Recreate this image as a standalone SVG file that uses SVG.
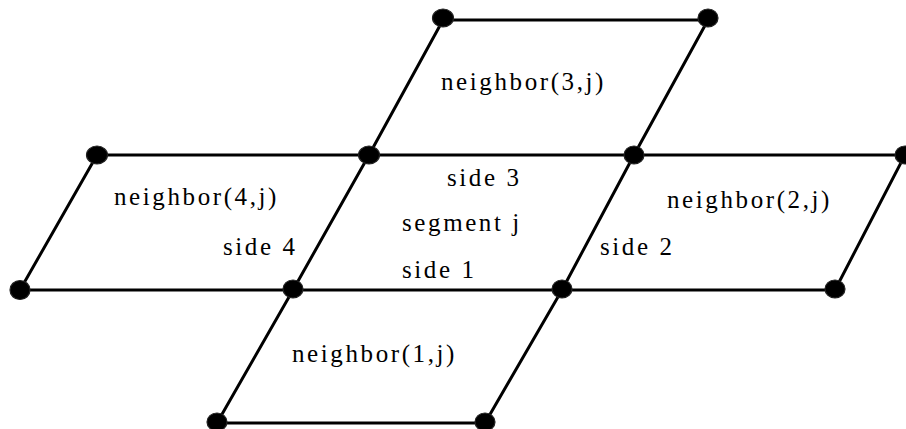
<svg xmlns="http://www.w3.org/2000/svg" width="906" height="429" viewBox="0 0 906 429">
<style>
.ln{stroke:#000;stroke-width:3;stroke-linecap:round;fill:none}
.dot{fill:#000;stroke:#222;stroke-width:1.2}
.lb{font-family:"Liberation Serif","Times New Roman",serif;font-size:25px;letter-spacing:2.6px;fill:#000}
</style>
<rect width="906" height="429" fill="#fff"/>
<g id="connectors">
<line class="ln" x1="443" y1="20" x2="708" y2="20"/>
<line class="ln" x1="97" y1="155" x2="905" y2="155"/>
<line class="ln" x1="20" y1="290" x2="835" y2="290"/>
<line class="ln" x1="217" y1="423" x2="485" y2="423"/>
<line class="ln" x1="443" y1="20" x2="369" y2="155"/>
<line class="ln" x1="708" y1="20" x2="634" y2="155"/>
<line class="ln" x1="97" y1="155" x2="20" y2="290"/>
<line class="ln" x1="369" y1="155" x2="293" y2="290"/>
<line class="ln" x1="634" y1="155" x2="562" y2="290"/>
<line class="ln" x1="905" y1="155" x2="835" y2="290"/>
<line class="ln" x1="293" y1="290" x2="217" y2="423"/>
<line class="ln" x1="562" y1="290" x2="485" y2="423"/>
</g>
<g id="vertices">
<ellipse class="dot" cx="443" cy="18" rx="10.5" ry="9"/>
<ellipse class="dot" cx="708" cy="18" rx="10" ry="9"/>
<ellipse class="dot" cx="97" cy="155" rx="10.5" ry="9"/>
<ellipse class="dot" cx="369" cy="155" rx="10.5" ry="9"/>
<ellipse class="dot" cx="634" cy="155" rx="10" ry="9"/>
<ellipse class="dot" cx="905" cy="155" rx="10" ry="9"/>
<ellipse class="dot" cx="20" cy="290" rx="10" ry="9.5"/>
<ellipse class="dot" cx="293" cy="289" rx="10" ry="9"/>
<ellipse class="dot" cx="562" cy="289" rx="10" ry="9"/>
<ellipse class="dot" cx="835" cy="289" rx="10" ry="9"/>
<ellipse class="dot" cx="217" cy="422" rx="10" ry="9"/>
<ellipse class="dot" cx="485" cy="422" rx="10" ry="9"/>
</g>
<g id="neighbor3"><text class="lb" x="441" y="90">neighbor(3,j)</text></g>
<g id="neighbor4"><text class="lb" x="114" y="205">neighbor(4,j)</text></g>
<g id="neighbor2"><text class="lb" x="667" y="208">neighbor(2,j)</text></g>
<g id="neighbor1"><text class="lb" x="292" y="362">neighbor(1,j)</text></g>
<g id="segment">
<text class="lb" x="447" y="186">side 3</text>
<text class="lb" x="402" y="231">segment j</text>
<text class="lb" x="402" y="278">side 1</text>
<text class="lb" x="223" y="255">side 4</text>
<text class="lb" x="600" y="255">side 2</text>
</g>
</svg>
